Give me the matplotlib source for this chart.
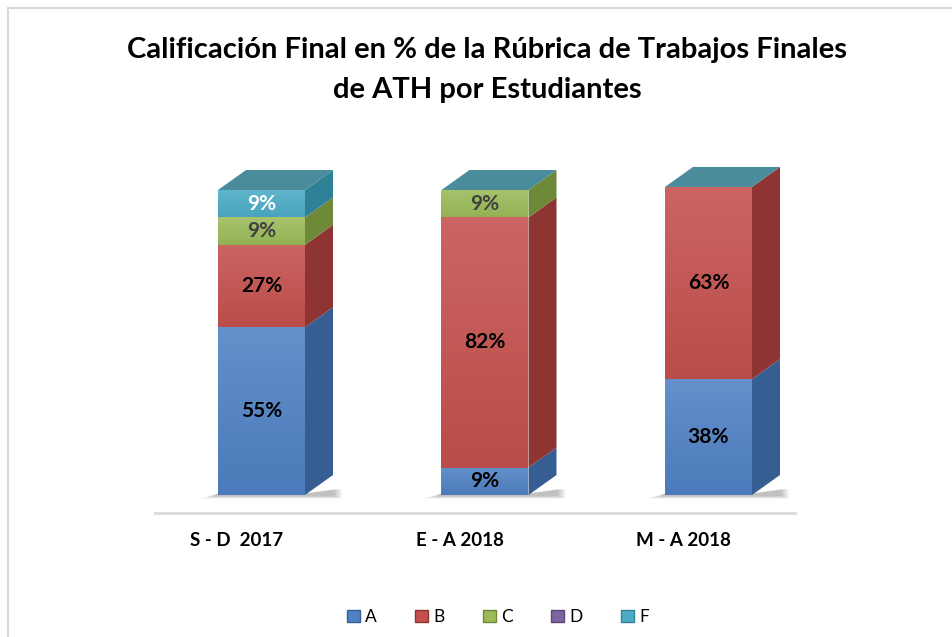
import matplotlib
matplotlib.use("Agg")
import matplotlib.pyplot as plt
from matplotlib.patches import Polygon, Patch
from matplotlib.colors import to_rgb
import numpy as np

# ---- data ----
categories = ["S - D  2017", "E - A 2018", "M - A 2018"]
series_names = ["A", "B", "C", "D", "F"]
values = {
    "A": [55, 9, 38],
    "B": [27, 82, 63],
    "C": [9, 9, 0],
    "D": [0, 0, 0],
    "F": [9, 0, 0],
}
front_colors = {"A": "#4F81C4", "B": "#C4504D", "C": "#9BBB59", "D": "#8064A2", "F": "#4BACC6"}
side_colors = {"A": "#365E92", "B": "#8E3432", "C": "#6E8A38", "D": "#5B4677", "F": "#2F8198"}
top_face_color = "#4A8C9C"
label_colors = {"A": "black", "B": "black", "C": "#404040", "D": "black", "F": "white"}


def lighten(c, f):
    r = np.array(to_rgb(c))
    return tuple(r + (1 - r) * f)


def darken(c, f):
    r = np.array(to_rgb(c))
    return tuple(r * (1 - f))


W, H = 953, 637
fig = plt.figure(figsize=(W / 100, H / 100), dpi=100)
fig.patch.set_facecolor("white")

# border (top-left visible)
fig.add_artist(plt.Line2D([8 / W, 8 / W], [0, 1 - 8 / H], color="#d9d9d9", lw=1.5))
fig.add_artist(plt.Line2D([8 / W, 1], [1 - 8 / H, 1 - 8 / H], color="#d9d9d9", lw=1.5))

# axes in pixel coords
ax_l, ax_r, ax_b, ax_t = 155, 795, 513, 150
ax = fig.add_axes([ax_l / W, 1 - ax_b / H, (ax_r - ax_l) / W, (ax_b - ax_t) / H])
px_per_unit_x = 223.5
px_per_pct = 3.05
x0_px = 261.5
base_px = 495

for s in ["top", "right", "left"]:
    ax.spines[s].set_visible(False)
ax.spines["bottom"].set_color("#d9d9d9")
ax.spines["bottom"].set_linewidth(2)
ax.set_yticks([])
ax.set_xticks([])

bw = 87 / px_per_unit_x
dx = 28 / px_per_unit_x
dy = 20 / px_per_pct
xs = np.arange(len(categories))

# soft shadows under bars
for i, x in enumerate(xs):
    for k in range(6):
        g = k / 6.0
        sh = Polygon([(x - bw / 2 - 0.075 * (1 - g) - 0.005, -1.2 + 1.0 * g),
                      (x + bw / 2 + dx + 0.04 * (1 - g), -1.2 + 1.0 * g),
                      (x + bw / 2 + dx + 0.04 * (1 - g), dy * 0.3),
                      (x + bw / 2, 0.5),
                      (x - bw / 2, 0.5)],
                     closed=True, facecolor="black", alpha=0.045, edgecolor="none", zorder=1)
        ax.add_patch(sh)

bottoms = np.zeros(len(categories))
grad = np.linspace(0, 1, 64).reshape(-1, 1)
for name in series_names:
    vals = np.array(values[name], dtype=float)
    bars = ax.bar(xs, vals, width=bw, bottom=bottoms, color=front_colors[name], edgecolor="none", zorder=3)
    c_top = np.array(lighten(front_colors[name], 0.12))
    c_bot = np.array(darken(front_colors[name], 0.05))
    for i, x in enumerate(xs):
        v = vals[i]
        if v <= 0:
            continue
        b = bottoms[i]
        img = c_bot[None, None, :] * (1 - grad[:, :, None]) + c_top[None, None, :] * grad[:, :, None]
        im = ax.imshow(img, extent=(x - bw / 2, x + bw / 2, b, b + v), origin="lower",
                       aspect="auto", zorder=3.1, interpolation="bilinear")
        im.set_clip_path(bars[i])
        xr = x + bw / 2
        side = Polygon([(xr, b), (xr + dx, b + dy), (xr + dx, b + v + dy), (xr, b + v)],
                       closed=True, facecolor=side_colors[name], edgecolor="none", zorder=2)
        ax.add_patch(side)
        ax.text(x, b + v / 2, f"{int(v)}%", ha="center", va="center", fontsize=15,
                fontweight="bold", color=label_colors[name], family="Lato", zorder=5)
    bottoms = bottoms + vals

for i, x in enumerate(xs):
    t = bottoms[i]
    xl, xr = x - bw / 2, x + bw / 2
    top = Polygon([(xl, t), (xr, t), (xr + dx, t + dy), (xl + dx, t + dy)],
                  closed=True, facecolor=top_face_color, edgecolor="none", zorder=4)
    ax.add_patch(top)

ax.set_xlim((ax_l - x0_px) / px_per_unit_x, (ax_r - x0_px) / px_per_unit_x)
ax.set_ylim(-(ax_b - base_px) / px_per_pct, (base_px - ax_t) / px_per_pct)

# category labels
for i, x in enumerate(xs):
    ax.text(x - 25 / px_per_unit_x, -(541 - base_px) / px_per_pct, categories[i], ha="center", va="center",
            fontsize=13.5, fontweight="bold", family="Lato", clip_on=False)

# title
fig.text(487 / W, 1 - 50 / H, "Calificación Final en % de la Rúbrica de Trabajos Finales",
         ha="center", va="center", fontsize=21, fontweight="bold", family="Lato")
fig.text(487 / W, 1 - 90 / H, "de ATH por Estudiantes",
         ha="center", va="center", fontsize=21, fontweight="bold", family="Lato")

handles = [Patch(facecolor=front_colors[n], edgecolor=side_colors[n], label=n) for n in series_names]
fig.legend(handles=handles, loc="center", bbox_to_anchor=(498 / W, 1 - 617 / H), ncol=5, frameon=False,
           handlelength=0.75, handleheight=0.75, handletextpad=0.3, columnspacing=2.2,
           prop={"family": "Lato", "size": 12.5})

fig.savefig("out.png", dpi=100, facecolor="white")
